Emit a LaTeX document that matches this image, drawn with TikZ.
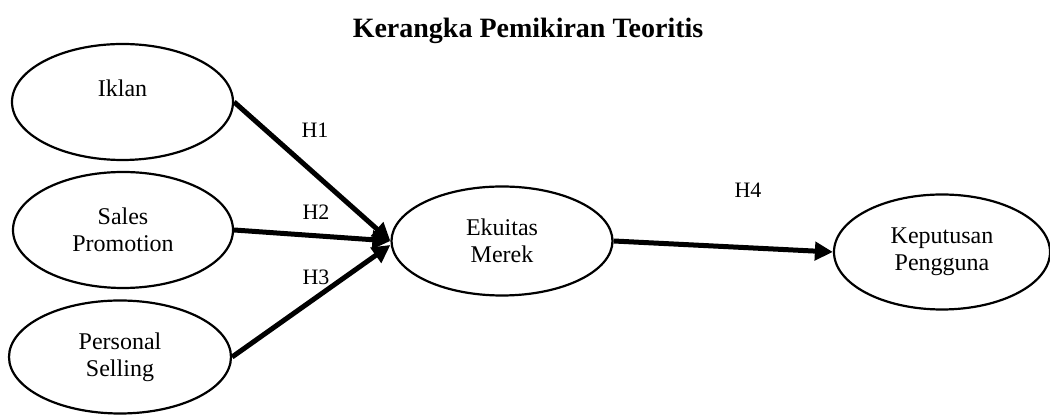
\documentclass[tikz,border=0pt]{standalone}
\usepackage{fontspec}
\setmainfont{Liberation Serif}
\usetikzlibrary{shapes.geometric,arrows.meta}
\tikzset{
  varbox/.style={draw, ellipse, line width=1.1pt, align=center,
    font=\fontsize{12}{13.6}\selectfont},
  hlabel/.style={font=\fontsize{11}{13}\selectfont},
  path arrow/.style={line width=2.5pt, -{Triangle[length=9pt,width=9pt]}}
}
\begin{document}
\begin{tikzpicture}[x=0.5pt,y=-0.5pt]
\useasboundingbox (0,0) rectangle (1050,415);

\node[font=\fontsize{14}{16}\selectfont\bfseries] (title) at (528,31) {Kerangka Pemikiran Teoritis};

\node[varbox, minimum width=110.5pt, minimum height=58pt] (iklan) at (122.5,102) {Iklan\\\mbox{}};
\node[varbox, minimum width=110pt, minimum height=58pt] (sales) at (123,230) {Sales\\Promotion};
\node[varbox, minimum width=111pt, minimum height=56.5pt] (personal) at (120,357) {Personal\\Selling};
\node[varbox, minimum width=110.5pt, minimum height=54.5pt] (ekuitas) at (502,241) {Ekuitas\\Merek};
\node[varbox, minimum width=108pt, minimum height=57.5pt] (keputusan) at (942,252) {Keputusan\\Pengguna};

\draw[path arrow] (iklan.east) -- (ekuitas.west);
\draw[path arrow] (sales.east) -- (ekuitas.west);
\draw[path arrow] (personal.east) -- ([yshift=-2]ekuitas.west);
\draw[path arrow] (ekuitas.east) -- (keputusan.west);

\node[hlabel] (h1) at (315,130) {H1};
\node[hlabel] (h2) at (316,212) {H2};
\node[hlabel] (h3) at (316,277) {H3};
\node[hlabel] (h4) at (748,190) {H4};
\end{tikzpicture}
\end{document}
